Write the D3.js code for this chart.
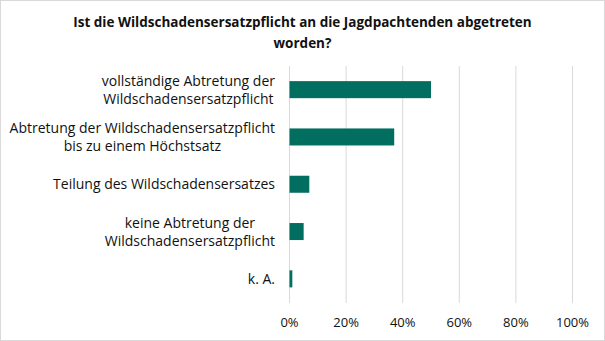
<!DOCTYPE html>
<html><head><meta charset="utf-8">
<script src="https://cdn.jsdelivr.net/npm/d3@7"></script>
<style>body{margin:0;background:#fff}svg{display:block}</style>
</head><body>
<script>
const categories = [
  ["vollständige Abtretung der", "Wildschadensersatzpflicht"],
  ["Abtretung der Wildschadensersatzpflicht", "bis zu einem Höchstsatz"],
  ["Teilung des Wildschadensersatzes"],
  ["keine Abtretung der", "Wildschadensersatzpflicht"],
  ["k. A."]
];
const values = [0.50, 0.37, 0.07, 0.05, 0.01];
const ticks = [0, 0.2, 0.4, 0.6, 0.8, 1.0];
const titleLines = ["Ist die Wildschadensersatzpflicht an die Jagdpachtenden abgetreten", "worden?"];

const W = 605, H = 341;
const font = "'Open Sans', Lato, sans-serif";
const svg = d3.select("body").append("svg").attr("width", W).attr("height", H);
svg.append("rect").attr("x", 0.5).attr("y", 0.5).attr("width", W - 1).attr("height", H - 1)
  .attr("fill", "#fff").attr("stroke", "#d9d9d9");

const x = d3.scaleLinear().domain([0, 1]).range([289.5, 572.5]);
const y = d3.scaleBand().domain(d3.range(categories.length)).range([66, 302.5]).paddingInner(0.64).paddingOuter(0.32);

// title
svg.append("text").attr("x", W / 2).attr("y", 27).attr("text-anchor", "middle")
  .style("font-family", font).style("font-weight", "bold").style("font-size", "13.5px").attr("fill", "#111")
  .selectAll("tspan").data(titleLines).join("tspan")
  .attr("x", W / 2).attr("dy", (d, i) => i ? 21 : 0).text(d => d);

// grid
svg.append("g").selectAll("line").data(ticks).join("line")
  .attr("x1", d => x(d)).attr("x2", d => x(d)).attr("y1", 66).attr("y2", 303)
  .attr("stroke", "#d9d9d9").attr("stroke-width", 1);

// bars
svg.append("g").selectAll("rect").data(values).join("rect")
  .attr("x", x(0)).attr("y", (d, i) => y(i)).attr("width", d => x(d) - x(0)).attr("height", y.bandwidth())
  .attr("fill", "#026e60");

// axis tick labels
svg.append("g").selectAll("text").data(ticks).join("text")
  .attr("x", d => x(d)).attr("y", 327).attr("text-anchor", "middle")
  .style("font-family", font).style("font-size", "13px").attr("fill", "#111")
  .text(d => d3.format(".0%")(d));

// category labels
const lg = svg.append("g");
categories.forEach((lines, i) => {
  const cy = y(i) + y.bandwidth() / 2;
  const t = lg.append("text").attr("text-anchor", "middle")
    .style("font-family", font).style("font-size", "14px").attr("fill", "#111");
  const n = lines.length, lh = 18;
  const sp = t.selectAll("tspan").data(lines).join("tspan")
    .attr("y", (d, k) => cy + 5 + (k - (n - 1) / 2) * lh).text(d => d);
  let maxW = 0;
  sp.each(function () { maxW = Math.max(maxW, this.getComputedTextLength()); });
  sp.attr("x", 275 - maxW / 2);
});
</script>
</body></html>
